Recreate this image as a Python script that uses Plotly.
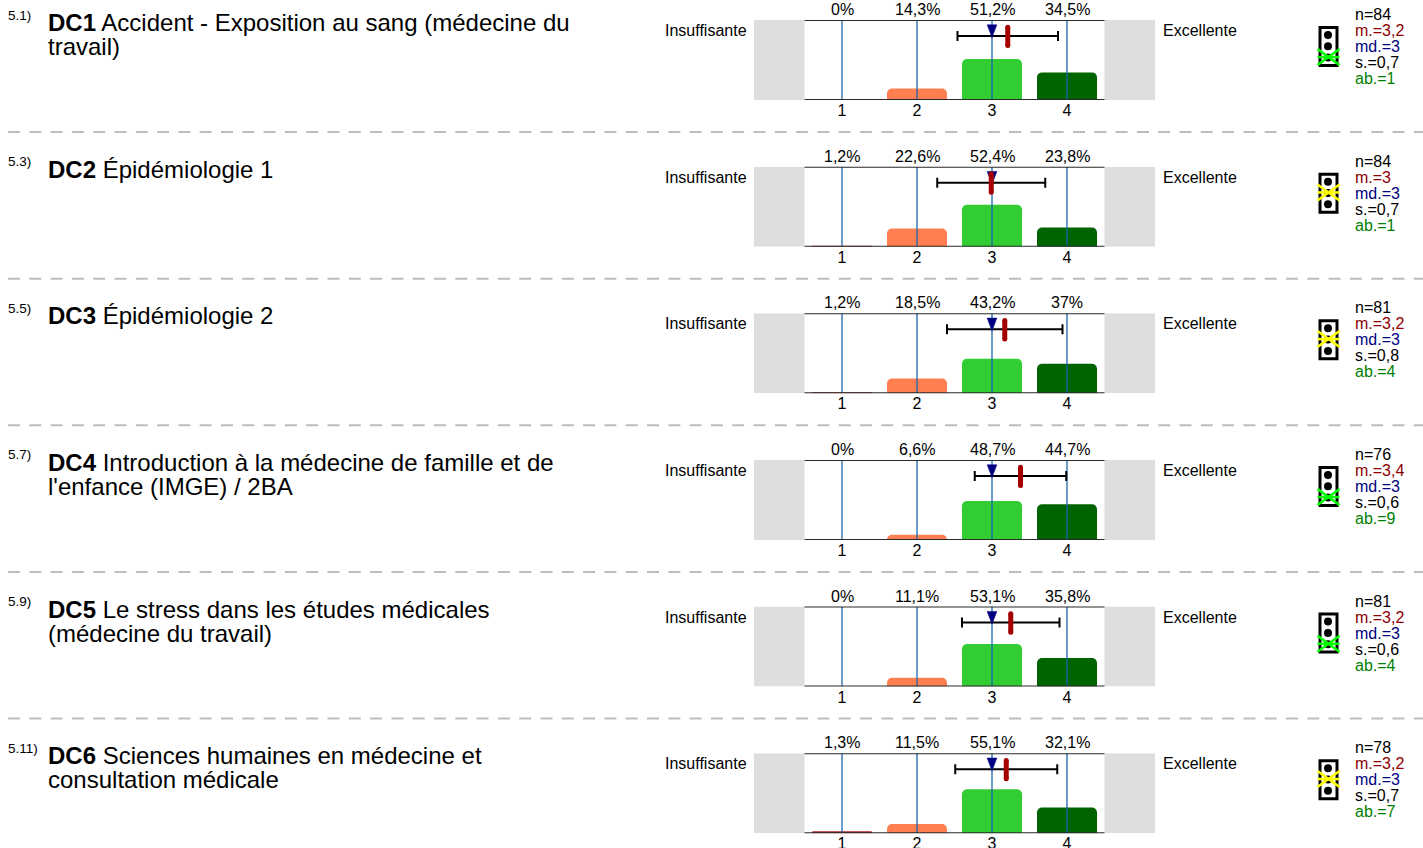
import plotly.graph_objects as go

W, H = 1423, 848
FONT = "Liberation Sans, Arial, sans-serif"

question_ids = ["5.1)", "5.3)", "5.5)", "5.7)", "5.9)", "5.11)"]
codes = ["DC1", "DC2", "DC3", "DC4", "DC5", "DC6"]
title_lines = [
    ["Accident - Exposition au sang (médecine du", "travail)"],
    ["Épidémiologie 1"],
    ["Épidémiologie 2"],
    ["Introduction à la médecine de famille et de", "l'enfance (IMGE) / 2BA"],
    ["Le stress dans les études médicales", "(médecine du travail)"],
    ["Sciences humaines en médecine et", "consultation médicale"],
]
scale = [1, 2, 3, 4]
pct_row1 = [0, 14.3, 51.2, 34.5]
pct_row2 = [1.2, 22.6, 52.4, 23.8]
pct_row3 = [1.2, 18.5, 43.2, 37]
pct_row4 = [0, 6.6, 48.7, 44.7]
pct_row5 = [0, 11.1, 53.1, 35.8]
pct_row6 = [1.3, 11.5, 55.1, 32.1]
percentages = [pct_row1, pct_row2, pct_row3, pct_row4, pct_row5, pct_row6]
means = [3.21, 2.99, 3.17, 3.38, 3.25, 3.19]
sds = [0.67, 0.72, 0.77, 0.61, 0.65, 0.68]
medians = [3, 3, 3, 3, 3, 3]
n_labels = ["n=84", "n=84", "n=81", "n=76", "n=81", "n=78"]
m_labels = ["m.=3,2", "m.=3", "m.=3,2", "m.=3,4", "m.=3,2", "m.=3,2"]
md_labels = ["md.=3"] * 6
s_labels = ["s.=0,7", "s.=0,7", "s.=0,8", "s.=0,6", "s.=0,6", "s.=0,7"]
ab_labels = ["ab.=1", "ab.=1", "ab.=4", "ab.=9", "ab.=4", "ab.=7"]
light_colors = ["#00FF00", "#FFFF00", "#FFFF00", "#00FF00", "#00FF00", "#FFFF00"]
light_index = [2, 1, 1, 2, 2, 1]
bar_colors = ["#B22222", "#FF7F50", "#32CD32", "#006400"]

ROW_STEP = 146.65
PLOT_TOP = 20.0
PLOT_H = 80.0
AX_L, AX_R = 754.0, 1155.0
X_LO, X_HI = 1 + (AX_L - 842) / 75, 1 + (AX_R - 842) / 75


def px(x):
    return x / W


def py(y):
    return 1 - y / H


def pct_text(v):
    return (f"{v:g}".replace(".", ",")) + "%"


fig = go.Figure()
shapes, annotations = [], []


def label(x, y, text, size, color="#000000", anchor="left"):
    annotations.append(dict(
        x=px(x), y=py(y), xref="paper", yref="paper", text=text, showarrow=False,
        xanchor=anchor, yanchor="middle", align=anchor,
        font=dict(family=FONT, size=size, color=color), borderpad=0, borderwidth=0,
    ))


layout_axes = {}
for i in range(6):
    off = i * ROW_STEP
    top = PLOT_TOP + off
    bottom = top + PLOT_H
    k = "" if i == 0 else str(i + 1)
    xa, ya = f"x{k}", f"y{k}"
    layout_axes[f"xaxis{k}"] = dict(
        domain=[px(AX_L), px(AX_R)], range=[X_LO, X_HI], anchor=ya, automargin=False,
        tickmode="array", tickvals=scale, ticktext=[str(v) for v in scale],
        showgrid=False, zeroline=False, showline=False, ticks="", ticklabelstandoff=-1,
        tickfont=dict(family=FONT, size=16, color="#000000"),
    )
    layout_axes[f"yaxis{k}"] = dict(
        domain=[py(bottom), py(top)], range=[0, 100], anchor=xa, automargin=False,
        visible=False, fixedrange=True,
    )
    # grey side bands
    for x0, x1 in ((X_LO, 0.5), (4.5, X_HI)):
        shapes.append(dict(type="rect", xref=xa, yref=ya, x0=x0, x1=x1, y0=0, y1=100,
                           fillcolor="#DEDEDE", line_width=0, layer="below"))
    # bars
    fig.add_trace(go.Bar(
        x=scale, y=percentages[i], width=0.8, xaxis=xa, yaxis=ya,
        marker=dict(color=bar_colors, cornerradius=5, line_width=0), showlegend=False,
    ))
    # vertical scale lines
    for v in scale:
        fig.add_trace(go.Scatter(x=[v, v], y=[0, 100], mode="lines", xaxis=xa, yaxis=ya,
                                 line=dict(color="#1A66B0", width=1.3), showlegend=False))
    # top + bottom frame lines
    for yv in (0, 100):
        shapes.append(dict(type="line", xref=xa, yref=ya, x0=0.5, x1=4.5, y0=yv, y1=yv,
                           line=dict(color="#2A2A2A", width=2), layer="above"))
    # percent labels
    for v, p in zip(scale, percentages[i]):
        annotations.append(dict(
            x=v, y=100, xref=xa, yref=ya, text=pct_text(p), showarrow=False,
            xanchor="center", yanchor="bottom", yshift=2, borderpad=0, borderwidth=0,
            font=dict(family=FONT, size=16, color="#000000"),
        ))
    # sd whisker
    fig.add_trace(go.Scatter(
        x=[means[i]], y=[80], mode="markers", marker=dict(size=1, color="#000000"),
        error_x=dict(type="data", array=[sds[i]], color="#000000", thickness=2, width=5),
        xaxis=xa, yaxis=ya, showlegend=False,
    ))
    # median triangle
    md = medians[i]
    fig.add_trace(go.Scatter(
        x=[md - 0.065, md + 0.065, md, md - 0.065], y=[94, 94, 78, 94], mode="lines",
        fill="toself", fillcolor="#000080", line=dict(color="#000080", width=0.5),
        xaxis=xa, yaxis=ya, showlegend=False,
    ))
    # mean bar
    fig.add_trace(go.Scatter(
        x=[means[i], means[i]], y=[91, 68], mode="lines+markers",
        line=dict(color="#A50000", width=5), marker=dict(color="#A50000", size=5),
        xaxis=xa, yaxis=ya, showlegend=False,
    ))

    # texts
    label(8, 15 + off, question_ids[i], 13.5)
    for j, line in enumerate(title_lines[i]):
        prefix = f"<b>{codes[i]}</b> " if j == 0 else ""
        label(48, 22.5 + off + j * 24, prefix + line, 24)
    label(747, 30.5 + off, "Insuffisante", 16, anchor="right")
    label(1163, 30.5 + off, "Excellente", 16)
    stat_cols = [(n_labels, "#000000"), (m_labels, "#8B0000"), (md_labels, "#000080"),
                 (s_labels, "#000000"), (ab_labels, "#008000")]
    for j, (vals, col) in enumerate(stat_cols):
        label(1355, 14.5 + off + 16 * j, vals[i], 16, col)

    # traffic light
    shapes.append(dict(type="rect", xref="paper", yref="paper",
                       x0=px(1320), x1=px(1337), y0=py(65.5 + off), y1=py(27.5 + off),
                       fillcolor="#FFFFFF", line=dict(color="#000000", width=3)))
    for c in range(3):
        cy = 35 + off + c * 11.3
        shapes.append(dict(type="circle", xref="paper", yref="paper",
                           x0=px(1324), x1=px(1332), y0=py(cy + 4), y1=py(cy - 4),
                           fillcolor="#000000", line_width=0))
    cy = 34.5 + off + light_index[i] * 11.3
    for x0, y0, x1, y1 in ((-11, -8, 11, 8), (-11, 8, 11, -8), (-11, 0, 11, 0)):
        shapes.append(dict(type="line", xref="paper", yref="paper",
                           x0=px(1328.5 + x0), x1=px(1328.5 + x1),
                           y0=py(cy + y0), y1=py(cy + y1),
                           line=dict(color=light_colors[i], width=2.5)))
    # separator
    if i < 5:
        sep = 132 + off
        shapes.append(dict(type="line", xref="paper", yref="paper",
                           x0=px(8), x1=1, y0=py(sep), y1=py(sep),
                           line=dict(color="#BDBDBD", width=2, dash="12px,9.3px")))

fig.update_layout(
    width=W, height=H, margin=dict(l=0, r=0, t=0, b=0), autosize=False,
    paper_bgcolor="#FFFFFF", plot_bgcolor="#FFFFFF", showlegend=False,
    shapes=shapes, annotations=annotations, barmode="overlay", **layout_axes,
)
fig.write_html("out.html", config={"displayModeBar": False},
               post_script="document.body.style.margin='0';document.body.style.overflow='hidden';")
